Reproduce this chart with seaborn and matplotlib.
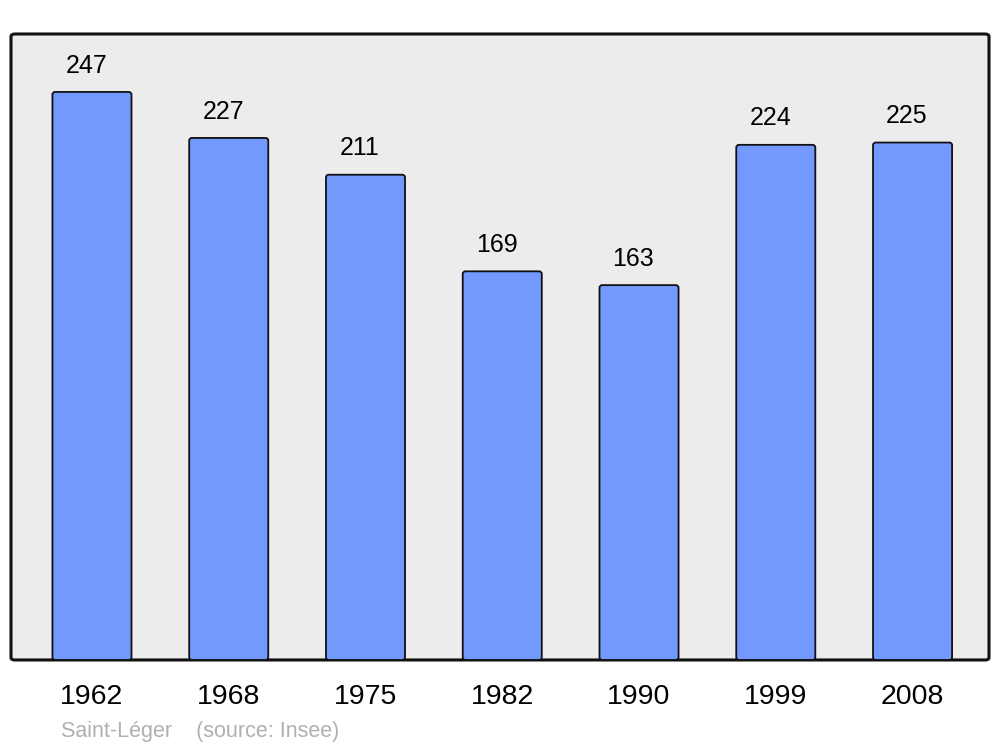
import matplotlib
matplotlib.use('Agg')
import matplotlib.pyplot as plt
import seaborn as sns
import pandas as pd
from matplotlib.patches import FancyBboxPatch

# Population data
years = ['1962', '1968', '1975', '1982', '1990', '1999', '2008']
population = [247, 227, 211, 169, 163, 224, 225]

data = pd.DataFrame({'Year': years, 'Population': population})

sns.set_style('white')
plt.rcParams['font.family'] = ['Liberation Sans', 'DejaVu Sans']

fig = plt.figure(figsize=(10, 7.47), dpi=100)
ax = fig.add_axes([0.011, 0.1165, 0.978, 0.838])
ax.set_facecolor('none')

sns.barplot(data=data, x='Year', y='Population', color='#7399ff', saturation=1,
            width=0.578, edgecolor='#111111', linewidth=1.3, ax=ax, zorder=2)

ax.set_xlim(-0.592, 6.559)
ax.set_ylim(0, 272.2)

# swap the bars for ones with slightly rounded corners
aspect = (136.75 / 2.2996)
for p in list(ax.patches):
    x, y, w, h = p.get_x(), p.get_y(), p.get_width(), p.get_height()
    p.remove()
    ax.add_patch(FancyBboxPatch((x, y), w, h, boxstyle='round,pad=0,rounding_size=0.02',
                                mutation_aspect=aspect, facecolor='#7399ff',
                                edgecolor='#111111', linewidth=1.3, zorder=2))

# Rounded frame behind the bars
frame = FancyBboxPatch((0, 0), 1, 1, boxstyle='round,pad=0,rounding_size=0.004',
                       transform=ax.transAxes, facecolor='#ececec', edgecolor='#111111',
                       linewidth=2.2, zorder=0, clip_on=False)
ax.add_patch(frame)

# Value labels above bars
for i, v in enumerate(population):
    ax.annotate(str(v), (i, v), xytext=(-4, 19), textcoords='offset points',
                ha='center', va='center', fontsize=18, color='black')

ax.set_yticks([])
ax.set_xlabel('')
ax.set_ylabel('')
ax.tick_params(axis='x', length=0, pad=17.5, labelsize=20.5, labelcolor='black')
for s in ax.spines.values():
    s.set_visible(False)

fig.text(0.061, 0.0205, 'Saint-Léger    (source: Insee)', color='#b0b0b0',
         fontsize=15.5, ha='left', va='center')

plt.savefig('out.png', dpi=100)
